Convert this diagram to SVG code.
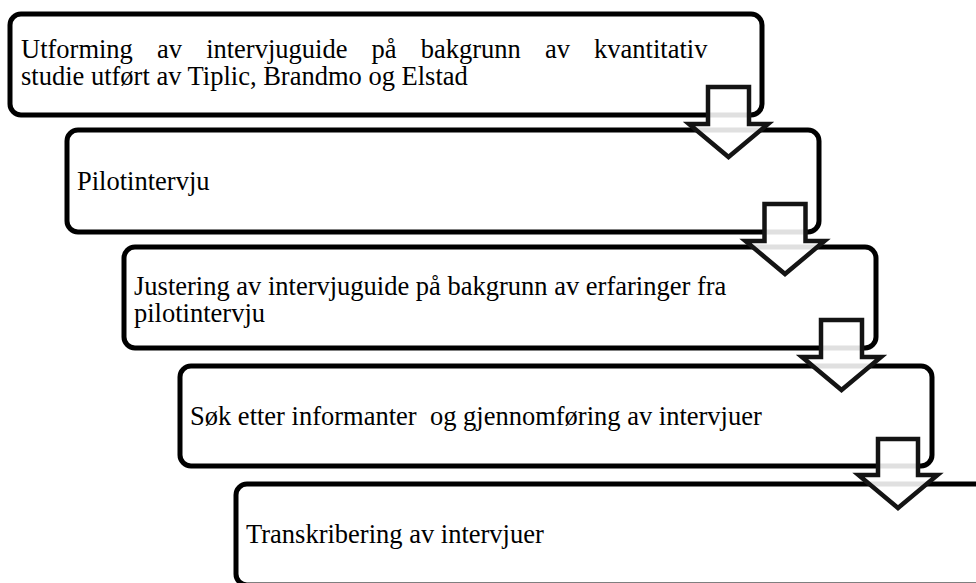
<svg xmlns="http://www.w3.org/2000/svg" width="976" height="583" viewBox="0 0 976 583">
<style>
.box{fill:#ffffff;stroke:#000000;stroke-width:5}
.lbl{font-family:"Liberation Serif","Times New Roman",serif;font-size:26.5px;fill:#000000}
.arr{fill:#ffffff;fill-opacity:0.88;stroke:#141414;stroke-width:4.5;stroke-linejoin:miter}
</style>
<rect width="976" height="583" fill="#ffffff"/>
<g id="node1">
<rect class="box" x="10" y="14" width="752" height="101" rx="11"/>
<text class="lbl" x="21" y="57.5" word-spacing="17.5">Utforming av intervjuguide på bakgrunn av kvantitativ</text>
<text class="lbl" x="21" y="84.5">studie utført av Tiplic, Brandmo og Elstad</text>
</g>
<g id="node2">
<rect class="box" x="67" y="130" width="752" height="102" rx="11"/>
<text class="lbl" x="77" y="190">Pilotintervju</text>
</g>
<g id="node3">
<rect class="box" x="124" y="247" width="752" height="101" rx="11"/>
<text class="lbl" x="134" y="294.5">Justering av intervjuguide på bakgrunn av erfaringer fra</text>
<text class="lbl" x="134" y="321.5">pilotintervju</text>
</g>
<g id="node4">
<rect class="box" x="180" y="366" width="752" height="100" rx="11"/>
<text class="lbl" x="190" y="425" xml:space="preserve">Søk etter informanter  og gjennomføring av intervjuer</text>
</g>
<g id="node5">
<rect class="box" x="236" y="484" width="752" height="101" rx="11"/>
<text class="lbl" x="246" y="543">Transkribering av intervjuer</text>
</g>
<g id="connectors">
<polygon class="arr" points="708,87 749,87 749,124 768,124 728.5,157 689,124 708,124"/>
<polygon class="arr" points="764.5,204 805.5,204 805.5,241 824.5,241 785,274 745.5,241 764.5,241"/>
<polygon class="arr" points="821,320 862,320 862,357 881,357 841.5,390 802,357 821,357"/>
<polygon class="arr" points="878,439 918,439 918,475 937.5,475 898,508 858.5,475 878,475"/>
</g>
</svg>
